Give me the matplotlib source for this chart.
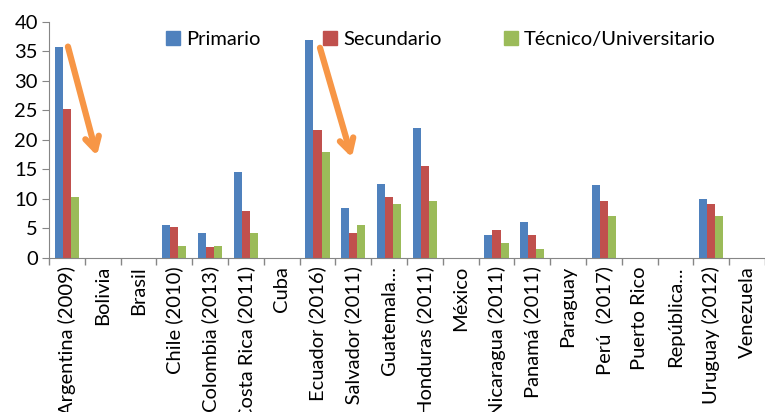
import numpy as np
import matplotlib.pyplot as plt
from matplotlib.patches import Patch

plt.rcParams['font.family'] = ['Lato', 'DejaVu Sans']

# datos
paises = ['Argentina (2009)', 'Bolivia', 'Brasil', 'Chile (2010)', 'Colombia (2013)',
          'Costa Rica (2011)', 'Cuba', 'Ecuador (2016)', 'El Salvador (2011)', 'Guatemala...',
          'Honduras (2011)', 'México', 'Nicaragua (2011)', 'Panamá (2011)', 'Paraguay',
          'Perú  (2017)', 'Puerto Rico', 'República...', 'Uruguay (2012)', 'Venezuela']
primario = [35.8, 0, 0, 5.6, 4.2, 14.6, 0, 37.0, 8.5, 12.6, 22.0, 0, 3.9, 6.1, 0, 12.4, 0, 0, 10.0, 0]
secundario = [25.3, 0, 0, 5.3, 1.9, 8.0, 0, 21.6, 4.3, 10.4, 15.6, 0, 4.7, 3.8, 0, 9.7, 0, 0, 9.2, 0]
tecnico = [10.3, 0, 0, 2.0, 2.1, 4.2, 0, 17.9, 5.5, 9.2, 9.6, 0, 2.5, 1.5, 0, 7.1, 0, 0, 7.1, 0]
series = ['Primario', 'Secundario', 'Técnico/Universitario']
colores = ['#4F81BD', '#C0504D', '#9BBB59']

# flechas (inicio, fin) en coordenadas de datos
flechas = [((0.03, 35.8), (0.84, 17.3)), ((7.07, 35.6), (7.96, 17.0))]

fig = plt.figure(figsize=(7.65, 4.12), dpi=100)
ax = fig.add_axes([0.064, 0.374, 0.936, 0.573])

x = np.arange(len(paises))
w = 0.225
for i, (vals, c) in enumerate(zip([primario, secundario, tecnico], colores)):
    ax.bar(x + (i - 1) * w, vals, width=w, color=c, edgecolor='none')

for (x0, y0), (x1, y1) in flechas:
    ax.annotate('', xy=(x1, y1), xytext=(x0, y0),
                arrowprops=dict(arrowstyle='->,head_length=0.9,head_width=0.5',
                                color='#F79646', lw=4.5, shrinkA=0, shrinkB=0))

ax.set_xlim(-0.5, len(paises) - 0.5)
ax.set_ylim(0, 40)
ax.set_yticks(range(0, 41, 5))
ax.set_xticks(x)
ax.set_xticklabels(paises, rotation=90, fontsize=14.5, va='top', ha='center')
ax.set_xticks(np.arange(-0.5, len(paises), 1), minor=True)
ax.tick_params(axis='x', which='major', length=0, pad=6)
ax.tick_params(axis='x', which='minor', length=5, color='#868686', width=1)
ax.tick_params(axis='y', labelsize=14.5, length=5, color='#868686', pad=3)

for s in ['top', 'right']:
    ax.spines[s].set_visible(False)
for s in ['left', 'bottom']:
    ax.spines[s].set_color('#868686')

handles = [Patch(color=c, label=s) for c, s in zip(colores, series)]
fig.legend(handles=handles, ncol=3, loc='center left', bbox_to_anchor=(0.217, 0.905),
           frameon=False, fontsize=14.5, handlelength=0.7, handleheight=0.7,
           handletextpad=0.3, columnspacing=3.1, borderpad=0, borderaxespad=0)

fig.savefig('out.png', dpi=100)
